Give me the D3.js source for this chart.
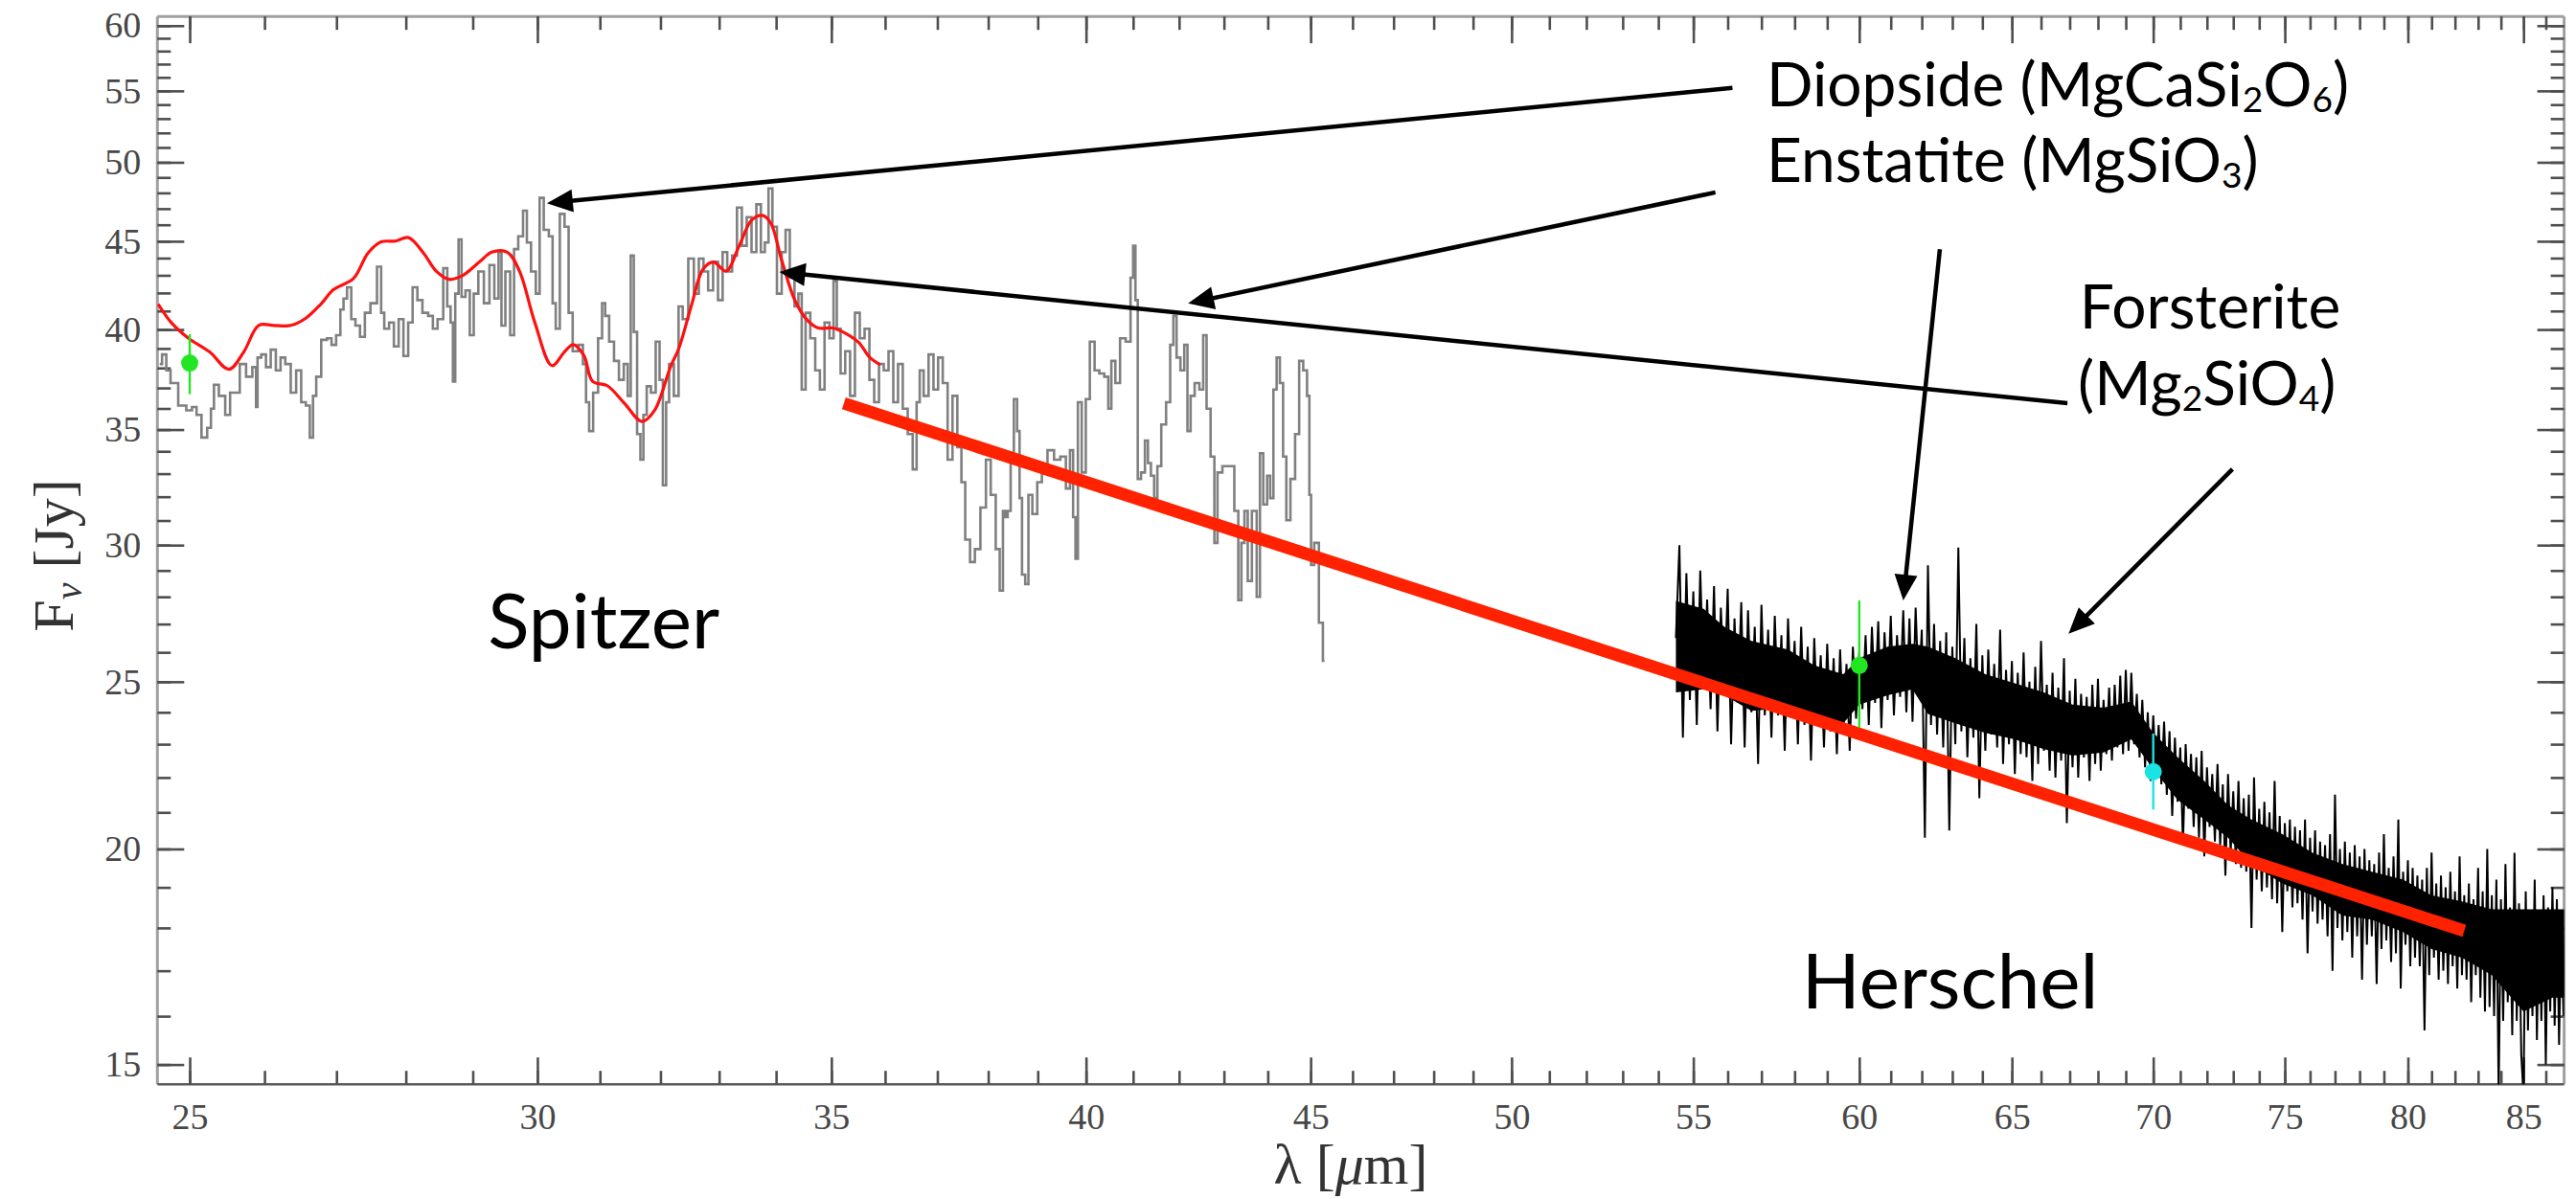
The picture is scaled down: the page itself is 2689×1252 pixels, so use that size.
<!DOCTYPE html>
<html><head><meta charset="utf-8">
<script src="https://cdn.jsdelivr.net/npm/d3@7"></script>
<style>body{margin:0;background:#fff}svg{display:block}</style>
</head><body>
<svg id="c" width="2689" height="1252"></svg>
<script>
// ---------------- DATA ----------------
const xMajorTicks = [25,30,35,40,45,50,55,60,65,70,75,80,85];
const yMajorTicks = [15,20,25,30,35,40,45,50,55,60];

// Spitzer spectrum [lambda (um), F (Jy)]
const spitzer = [
[24.61,38.20],[24.67,38.69],[24.72,37.88],[24.78,37.24],[24.92,36.14],[24.99,35.91],[25.07,36.07],[25.11,35.69],[25.20,34.63],[25.26,35.08],
[25.30,35.99],[25.34,37.16],[25.43,36.61],[25.51,35.69],[25.56,36.77],[25.62,36.77],[25.71,38.20],[25.79,37.56],[25.88,38.04],[25.89,36.07],
[25.92,38.53],[25.99,38.69],[26.05,38.04],[26.12,38.94],[26.19,37.88],[26.25,38.53],[26.32,38.20],[26.40,36.77],[26.47,37.88],[26.54,36.30],
[26.60,36.14],[26.65,34.63],[26.69,36.61],[26.74,37.56],[26.83,39.45],[26.90,39.53],[26.96,39.19],[27.03,39.70],[27.08,41.08],[27.12,41.69],
[27.18,42.32],[27.24,40.56],[27.30,40.21],[27.37,39.61],[27.44,40.90],[27.53,41.43],[27.63,43.50],[27.65,40.90],[27.72,40.04],[27.79,40.38],
[27.86,39.11],[27.93,40.56],[28.00,38.61],[28.07,40.38],[28.13,42.32],[28.21,41.60],[28.28,40.90],[28.38,40.73],[28.42,40.04],[28.52,40.56],
[28.59,43.41],[28.64,41.25],[28.69,40.38],[28.71,37.32],[28.76,41.96],[28.81,45.11],[28.85,41.78],[28.93,42.14],[28.98,39.70],[29.05,41.96],
[29.12,43.22],[29.22,41.43],[29.29,43.59],[29.37,41.69],[29.42,44.35],[29.46,40.21],[29.54,43.22],[29.61,39.70],[29.66,44.53],[29.74,45.30],
[29.81,46.87],[29.86,44.92],[29.94,43.22],[30.01,41.96],[30.06,47.68],[30.14,45.69],[30.22,45.30],[30.26,41.43],[30.32,40.04],[30.39,46.67],
[30.47,45.88],[30.52,40.90],[30.60,38.86],[30.70,39.19],[30.75,38.20],
[30.80,36.30],[30.85,34.93],[30.93,36.77],[31.01,39.53],[31.06,41.43],[31.11,40.73],[31.19,39.36],[31.27,38.36],[31.35,37.40],[31.43,38.20],
[31.48,36.61],[31.53,44.15],[31.58,39.87],[31.64,34.79],[31.69,33.62],[31.74,35.69],[31.80,37.08],[31.88,36.77],[31.96,39.36],[32.01,37.40],
[32.07,32.49],[32.12,36.30],[32.17,38.20],[32.28,36.61],[32.33,41.25],[32.42,40.56],[32.52,43.97],[32.61,41.96],[32.69,43.97],[32.77,43.22],
[32.85,42.14],[32.94,43.78],[33.02,41.60],[33.10,44.35],[33.18,43.22],[33.27,44.15],[33.35,47.07],[33.44,44.73],[33.52,46.47],[33.61,44.35],
[33.69,47.27],[33.77,44.35],[33.83,44.92],[33.90,48.29],[33.97,45.88],[34.06,41.96],[34.14,44.35],[34.20,45.69],[34.29,42.86],[34.37,41.25],
[34.43,41.96],[34.49,36.92],[34.57,40.90],[34.66,39.53],[34.75,37.88],[34.83,36.92],[34.92,40.38],[35.01,39.53],[35.07,42.68],[35.13,40.04],
[35.21,37.72],[35.30,38.86],[35.39,36.61],[35.48,40.90],[35.57,39.53],[35.66,40.04],[35.75,37.40],[35.84,36.30],[35.93,38.20],[36.02,37.88],
[36.11,38.86],[36.20,36.30],[36.29,38.20],[36.38,35.99],[36.48,34.79],[36.57,33.19],[36.63,36.30],[36.69,37.88],[36.78,36.61],[36.88,38.69],
[36.97,36.92],[37.06,38.53],[37.15,37.24],[37.25,33.62],[37.34,36.61],[37.44,34.19],[37.50,32.63],[37.59,30.22],[37.69,29.33],[37.78,29.84],
[37.91,31.54],[38.00,33.62],[38.10,32.08],[38.20,29.84],[38.26,28.23],[38.33,31.40],
[38.36,31.14],[38.42,31.40],[38.48,33.76],[38.55,36.45],[38.61,34.93],[38.65,31.94],[38.71,28.84],[38.78,28.48],[38.84,32.08],[38.94,31.27],
[39.04,32.63],[39.13,33.05],[39.27,34.05],[39.40,33.62],[39.53,33.76],[39.63,32.35],[39.70,34.05],[39.76,31.14],[39.80,29.46],[39.86,36.30],
[39.96,33.05],[40.03,36.45],[40.13,39.36],[40.23,37.88],[40.33,37.72],[40.44,37.56],[40.50,35.99],[40.57,38.36],[40.67,37.24],[40.77,39.53],
[40.91,39.36],[40.98,42.86],[41.02,44.73],[41.08,41.60],[41.12,32.77],[41.22,33.05],[41.29,34.49],[41.35,33.47],[41.42,32.91],[41.49,31.94],
[41.56,33.33],[41.66,35.24],[41.77,36.30],[41.84,39.19],[41.91,40.73],[41.98,38.53],[42.08,37.88],[42.15,39.19],[42.22,34.93],[42.29,36.61],
[42.40,37.24],[42.50,36.92],[42.57,39.70],[42.65,35.99],[42.75,33.76],[42.82,30.09],[42.89,33.05],[43.04,33.33],[43.18,33.33],[43.29,31.40],
[43.36,27.87],[43.43,30.09],[43.50,31.40],[43.58,28.60],[43.69,31.40],[43.80,28.00],[43.84,33.91],[43.95,31.67],[44.02,32.91],[44.09,31.94],
[44.17,36.92],[44.24,38.53],[44.32,37.24],[44.39,33.76],[44.47,31.01],[44.58,32.77],[44.69,34.79],[44.77,38.36],[44.88,37.88],[44.95,36.61],
[44.99,32.08],[45.03,29.21],[45.14,30.09],[45.25,27.05],[45.33,25.71]
];

// Smooth red model over the Spitzer range [lambda, F]
const model = [
[24.59,41.38],[24.76,40.37],[24.98,39.55],[25.26,38.83],[25.52,37.93],[25.72,38.83],[25.92,40.22],[26.13,40.22],[26.36,40.22],[26.57,40.61],
[26.78,41.38],[26.96,42.19],[27.24,42.81],[27.45,44.30],[27.64,44.96],[27.85,45.01],[28.04,45.22],[28.26,44.30],[28.45,43.24],[28.64,42.77],
[28.84,42.98],[29.10,43.77],[29.29,44.35],[29.53,44.35],[29.72,43.24],[29.96,40.37],[30.23,38.12],[30.43,38.83],[30.57,39.20],[30.74,38.64],
[30.88,37.33],[31.12,37.11],[31.40,36.25],[31.69,35.38],[31.90,35.90],[32.17,38.07],[32.31,39.01],[32.53,41.38],[32.72,43.34],[32.90,43.77],
[33.12,43.24],[33.35,44.74],[33.57,46.30],[33.77,46.57],[33.91,46.07],[34.10,43.87],[34.34,41.57],[34.57,40.47],[34.76,40.08],[35.03,40.08],
[35.27,39.78],[35.51,39.30],[35.71,38.54],[35.91,38.16]
];

// Herschel spectrum: fluxes on a 0.1 um grid starting at 54.5 um
const herschelStart = 54.5;
const herschelStep = 0.1;
const herschelFlux = [
26.5,30.0,23.2,28.9,24.4,28.2,23.6,29.0,24.8,27.9,
24.1,28.4,23.4,27.6,24.6,28.3,23.0,27.2,24.3,27.8,
22.9,27.5,24.0,26.9,22.4,27.7,23.9,26.8,23.2,27.3,
23.9,26.6,22.8,27.2,24.1,26.4,23.0,26.9,23.6,26.2,
22.5,26.5,23.7,25.9,22.9,26.3,23.4,25.8,22.7,26.1,
23.4,25.6,22.8,26.2,23.8,26.0,24.1,26.6,23.6,26.9,
24.3,27.1,23.5,26.7,24.4,27.3,23.9,26.6,24.5,27.5,
24.0,27.2,23.7,27.6,24.6,26.8,20.3,29.2,23.6,27.0,
23.3,26.4,22.9,26.7,20.5,26.2,23.0,29.9,23.4,26.5,
22.6,25.8,23.2,27.0,21.4,25.9,22.8,26.1,23.3,25.6,
22.9,26.8,22.4,25.4,23.0,25.7,22.1,25.3,22.7,26.0,
22.6,25.0,21.9,25.5,22.4,26.4,22.8,24.9,22.2,25.3,
22.0,24.8,22.5,25.8,20.7,24.7,22.3,25.1,22.0,24.6,
22.6,24.5,21.9,24.9,22.4,25.1,22.2,24.4,22.7,24.8,
22.5,24.9,22.9,25.2,22.7,25.4,22.8,25.3,23.0,24.6,
22.6,24.4,22.3,24.0,21.9,23.9,22.2,23.6,21.8,23.7,
21.5,23.4,20.9,23.2,21.3,22.9,20.1,23.0,21.1,22.7,
20.6,22.6,20.3,22.8,19.8,22.3,20.6,22.1,20.2,22.4,
20.1,21.8,19.3,22.1,19.9,21.6,19.6,21.9,19.5,21.4,
19.4,21.5,18.0,22.0,19.2,21.1,18.9,21.3,19.0,21.0,
18.7,21.9,18.6,20.9,17.9,20.7,18.9,20.8,18.5,20.6,
18.6,20.5,18.2,20.8,17.4,20.3,18.4,20.5,18.1,20.2,
18.2,20.1,17.8,20.4,17.0,21.5,18.0,20.0,17.7,20.2,
17.9,19.9,17.3,20.1,17.8,19.8,16.8,20.0,17.6,19.7,
17.8,19.6,16.7,19.9,17.5,20.4,17.7,19.5,17.2,19.8,
17.4,20.8,16.6,19.4,17.6,19.7,17.1,19.5,17.3,19.3,
17.1,19.2,15.7,19.5,16.9,19.9,17.3,19.1,16.8,19.3,
17.0,19.0,16.7,19.4,17.1,18.9,16.6,19.8,16.9,18.8,
16.8,19.1,16.3,18.7,16.9,19.5,16.4,18.9,16.1,20.0,
16.2,18.8,16.0,19.2,14.4,18.7,15.9,19.6,16.3,18.5,
15.6,19.9,15.9,18.6,15.2,14.4,18.9,15.7,18.4,16.0,
19.2,15.5,18.4,15.9,18.8,15.0,18.5,16.1,19.0,15.8,
18.7,15.4,18.3,16.0,18.6
];
// Solid core of the dense Herschel band (read envelope)
const coreLambda = [54.5,55.3,55.9,56.7,57.8,58.6,59.5,60.0,60.9,61.7,62.2,63.1,64.1,65.1,66.1,67.1,68.2,69.2,70.0,70.9,71.9,72.8,73.7,74.9,76.1,77.3,78.5,79.8,81.0,82.3,83.6,85.0,86.3,86.9];
const coreTop    = [27.85,27.55,26.9,26.4,26.1,25.55,25.25,25.8,26.2,26.3,26.2,25.8,25.25,24.95,24.65,24.25,24.15,24.35,23.35,22.6,21.9,21.2,20.8,20.4,19.9,19.6,19.4,19.2,18.8,18.65,18.45,18.45,18.45,18.45];
const coreBottom = [24.65,24.75,24.55,24.05,24.15,23.85,23.65,24.25,24.55,24.75,23.95,23.65,23.35,23.15,22.85,22.65,22.75,23.15,22.25,21.35,20.8,20.3,19.6,19.1,18.8,18.3,18.2,17.9,17.5,17.3,16.9,16.1,16.4,16.4];

// Power-law fit (thick red line) end points
const fitLambda = [35.23, 82.4];
const fitFlux = [36.25, 17.93];

// Photometry points with error bars
const photLambda = [25, 60, 70];
const photFlux = [38.25, 25.55, 22.17];
const photLow = [36.70, 23.51, 21.08];
const photHigh = [39.75, 27.86, 23.33];
const photColor = ["#22e622", "#22e622", "#19e3e3"];

// Annotation labels (lambda, F of baseline-left) and arrows
const labels = [
  {lam:29.23, f:26.14, size:80, parts:[["Spitzer",0]]},
  {lam:58.22, f:16.16, size:80, parts:[["Herschel",0]]},
  {lam:57.15, f:53.88, size:64, parts:[["Diopside (MgCaSi",0],["2",1],["O",0],["6",1],[")",0]]},
  {lam:57.15, f:48.71, size:64, parts:[["Enstatite (MgSiO",0],["3",1],[")",0]]},
  {lam:67.35, f:40.05, size:64, parts:[["Forsterite",0]]},
  {lam:67.29, f:36.16, size:64, parts:[["(Mg",0],["2",1],["SiO",0],["4",1],[")",0]]}
];
const arrowFrom = [[56.14,55.22],[55.64,48.03],[66.92,36.25],[62.59,44.52],[72.97,33.2]];
const arrowTo   = [[30.15,47.34],[42.20,41.42],[34.06,43.19],[61.40,27.86],[66.96,26.65]];

// ---------------- CHART ----------------
const plot = {left:164.3, right:2676.6, top:17.2, bottom:1132.2};
const x = d3.scaleLog().domain([24.58, 86.83]).range([plot.left, plot.right]);
const y = d3.scaleLog().domain([14.61, 60.74]).range([plot.bottom, plot.top]);
const svg = d3.select("#c");

svg.append("defs").append("clipPath").attr("id","clip").append("rect")
  .attr("x",plot.left).attr("y",plot.top)
  .attr("width",plot.right-plot.left).attr("height",plot.bottom-plot.top);

const minorX = d3.range(25, 87);
const minorY = d3.range(15, 61);

function drawAxis(gen, tr, vals, size, labelled, pad){
  const g = svg.append("g").attr("transform", tr)
    .call(gen.tickValues(vals).tickSize(size).tickPadding(pad||10)
      .tickFormat(labelled ? d3.format("d") : () => ""));
  g.select(".domain").remove();
  g.selectAll(".tick line").attr("stroke","#4f4f4f").attr("stroke-width",2.6);
  g.selectAll(".tick text").attr("fill","#474747")
    .attr("font-family","'Liberation Serif', 'DejaVu Serif', serif").attr("font-size",38);
  return g;
}
// frame
const frame = svg.append("g");
frame.append("line").attr("x1",plot.left).attr("x2",plot.right).attr("y1",plot.top).attr("y2",plot.top).attr("stroke","#a0a0a0").attr("stroke-width",3);
frame.append("line").attr("x1",plot.left).attr("x2",plot.left).attr("y1",plot.top).attr("y2",plot.bottom).attr("stroke","#a0a0a0").attr("stroke-width",3);
frame.append("line").attr("x1",plot.right).attr("x2",plot.right).attr("y1",plot.top).attr("y2",plot.bottom).attr("stroke","#a0a0a0").attr("stroke-width",3);
frame.append("line").attr("x1",plot.left).attr("x2",plot.right).attr("y1",plot.bottom).attr("y2",plot.bottom).attr("stroke","#5a5a5a").attr("stroke-width",2.6);

drawAxis(d3.axisBottom(x), `translate(0,${plot.bottom})`, xMajorTicks, -28, true, 20);
drawAxis(d3.axisBottom(x), `translate(0,${plot.bottom})`, minorX, -14, false);
drawAxis(d3.axisTop(x), `translate(0,${plot.top})`, xMajorTicks, -28, false);
drawAxis(d3.axisTop(x), `translate(0,${plot.top})`, minorX, -14, false);
drawAxis(d3.axisLeft(y), `translate(${plot.left},0)`, yMajorTicks, -28, true, 17);
drawAxis(d3.axisLeft(y), `translate(${plot.left},0)`, minorY, -14, false);
drawAxis(d3.axisRight(y), `translate(${plot.right},0)`, yMajorTicks, -28, false);
drawAxis(d3.axisRight(y), `translate(${plot.right},0)`, minorY, -14, false);

// axis titles
const serif = "'Liberation Serif', 'DejaVu Serif', serif";
const xt = svg.append("text").attr("x",1410).attr("y",1236).attr("text-anchor","middle")
  .attr("font-family",serif).attr("font-size",60).attr("fill","#333");
xt.append("tspan").text("λ [");
xt.append("tspan").attr("font-style","italic").text("μ");
xt.append("tspan").text("m]");
const yt = svg.append("text").attr("transform","translate(76,580) rotate(-90)").attr("text-anchor","middle")
  .attr("font-family",serif).attr("font-size",60).attr("fill","#333");
yt.append("tspan").text("F");
yt.append("tspan").attr("font-size",40).attr("dy",9).attr("font-style","italic").text("ν");
yt.append("tspan").attr("dy",-9).text(" [Jy]");

// data layer
const layer = svg.append("g").attr("clip-path","url(#clip)");

layer.append("path").datum(spitzer)
  .attr("d", d3.line().x(d => x(d[0])).y(d => y(d[1])).curve(d3.curveStep)).attr("fill","none")
  .attr("stroke","#808080").attr("stroke-width",2.6);

layer.append("path").datum(model)
  .attr("d", d3.line().x(d => x(d[0])).y(d => y(d[1])).curve(d3.curveCatmullRom)).attr("fill","none")
  .attr("stroke","#ff1010").attr("stroke-width",3.2);

const core = coreLambda.map((l,i) => [l, coreTop[i], coreBottom[i]]);
layer.append("path").datum(core)
  .attr("d", d3.area().x(d => x(d[0])).y0(d => y(d[2])).y1(d => y(d[1])))
  .attr("fill","#000");

const herschel = herschelFlux.map((f,i) => [herschelStart + i*herschelStep, f]);
layer.append("path").datum(herschel)
  .attr("d", d3.line().x(d => x(d[0])).y(d => y(d[1]))).attr("fill","none")
  .attr("stroke","#000").attr("stroke-width",2.0).attr("stroke-linejoin","miter");

layer.append("line")
  .attr("x1", x(fitLambda[0])).attr("y1", y(fitFlux[0]))
  .attr("x2", x(fitLambda[1])).attr("y2", y(fitFlux[1]))
  .attr("stroke","#ff2200").attr("stroke-width",13).attr("stroke-linecap","butt");

photLambda.forEach((l,i) => {
  layer.append("line").attr("x1",x(l)).attr("x2",x(l)).attr("y1",y(photLow[i])).attr("y2",y(photHigh[i]))
    .attr("stroke",photColor[i]).attr("stroke-width",2.4);
  layer.append("circle").attr("cx",x(l)).attr("cy",y(photFlux[i])).attr("r",9).attr("fill",photColor[i]);
});

// arrows
const ag = svg.append("g");
arrowFrom.forEach((s,i) => {
  const t = arrowTo[i];
  const sx = x(s[0]), sy = y(s[1]), tx = x(t[0]), ty = y(t[1]);
  const dx = tx - sx, dy = ty - sy, len = Math.hypot(dx,dy);
  const ux = dx/len, uy = dy/len, L = 27, w = 12;
  const bx = tx - ux*L, by = ty - uy*L;
  ag.append("line").attr("x1",sx).attr("y1",sy).attr("x2",bx+ux*2).attr("y2",by+uy*2)
    .attr("stroke","#000").attr("stroke-width",4.5);
  ag.append("path").attr("d",`M${tx},${ty}L${bx - uy*w},${by + ux*w}L${bx + uy*w},${by - ux*w}Z`).attr("fill","#000");
});

// labels
const sans = "Lato, 'Open Sans', 'DejaVu Sans', sans-serif";
labels.forEach(lb => {
  const t = svg.append("text").attr("x", x(lb.lam)).attr("y", y(lb.f))
    .attr("font-family", sans).attr("font-size", lb.size).attr("fill","#000");
  let shifted = false;
  lb.parts.forEach(p => {
    const ts = t.append("tspan").text(p[0]);
    if (p[1] && !shifted) { ts.attr("font-size", lb.size*0.58).attr("dy", 6); shifted = true; }
    else if (!p[1] && shifted) { ts.attr("dy", -6); shifted = false; }
  });
});
</script>
</body></html>
